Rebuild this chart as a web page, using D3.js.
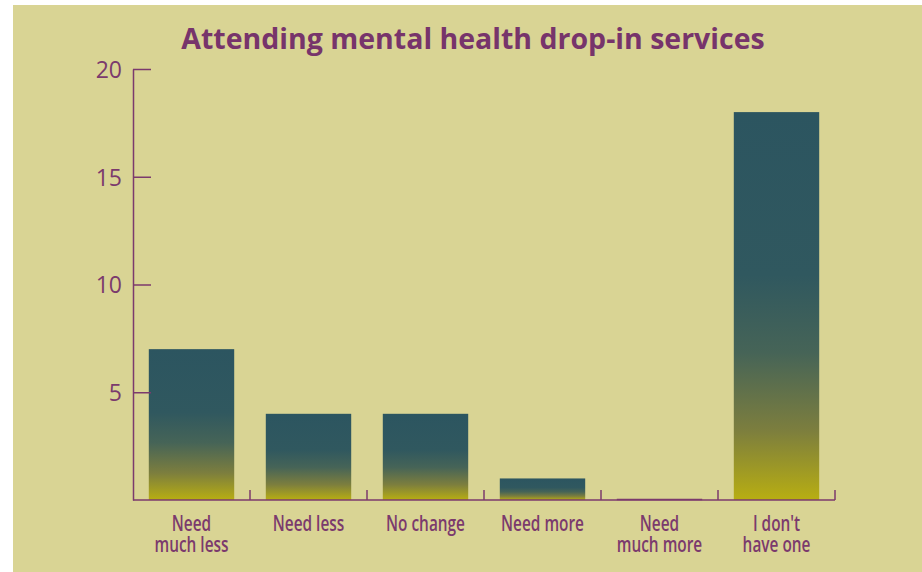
<!DOCTYPE html>
<html>
<head>
<meta charset="utf-8">
<script src="https://cdn.jsdelivr.net/npm/d3@7"></script>
<style>
  html, body { margin: 0; padding: 0; background: #ffffff; }
  svg { display: block; }
</style>
</head>
<body>
<svg id="chart" width="922" height="572"></svg>
<script>
// Survey answers: how attendance at drop-in services should change
const categories = ["Need much less", "Need less", "No change", "Need more", "Need much more", "I don't have one"];
const categoryLines = [["Need", "much less"], ["Need less"], ["No change"], ["Need more"], ["Need", "much more"], ["I don't", "have one"]];
const counts = [7, 4, 4, 1, 0, 18];
const yTicks = [5, 10, 15, 20];
const title = "Attending mental health drop-in services";

const W = 922, H = 572;
const purple = "#7b3a6d";
const svg = d3.select("#chart");

// panel background
svg.append("rect")
  .attr("x", 13).attr("y", 5)
  .attr("width", W - 13).attr("height", H - 5)
  .attr("fill", "#d9d494");

// vertical teal-to-olive fill used by every bar
const defs = svg.append("defs");
const grad = defs.append("linearGradient")
  .attr("id", "barFill")
  .attr("x1", 0).attr("y1", 0).attr("x2", 0).attr("y2", 1);
[[0, "#2c5560"], [0.42, "#30585f"], [0.62, "#466457"], [0.82, "#7c7e3e"], [1, "#b8ae12"]]
  .forEach(([o, c]) => grad.append("stop").attr("offset", o).attr("stop-color", c));

const x = d3.scaleBand()
  .domain(categories)
  .range([133, 835])
  .paddingInner(0.27)
  .paddingOuter(0.135);

const y = d3.scaleLinear().domain([0, 20]).range([500, 69]);

// bars
svg.append("g").selectAll("rect")
  .data(categories)
  .join("rect")
  .attr("x", d => x(d))
  .attr("width", x.bandwidth())
  .attr("y", (d, i) => y(counts[i]))
  .attr("height", (d, i) => y(0) - y(counts[i]))
  .attr("fill", "url(#barFill)");

// zero-height bar shows as a line on the baseline
svg.append("g").selectAll("line")
  .data(categories.filter((d, i) => counts[i] === 0))
  .join("line")
  .attr("x1", d => x(d)).attr("x2", d => x(d) + x.bandwidth())
  .attr("y1", y(0) - 0.5).attr("y2", y(0) - 0.5)
  .attr("stroke", purple).attr("stroke-width", 1.5);

// y axis with inward ticks
const yAxis = svg.append("g")
  .attr("transform", `translate(${x.range()[0]},0)`)
  .call(d3.axisLeft(y).tickValues(yTicks).tickSize(-18).tickSizeOuter(0).tickPadding(11));
yAxis.select(".domain").attr("stroke", purple).attr("stroke-width", 1.5);
yAxis.selectAll(".tick line").attr("stroke", purple).attr("stroke-width", 1.5);
yAxis.selectAll(".tick text")
  .attr("fill", purple)
  .attr("font-family", "'Open Sans', sans-serif")
  .attr("font-size", 23)
  .attr("dy", "0.36em");

// x axis baseline and band separators
const xAxis = svg.append("g").attr("transform", `translate(0,${y(0)})`);
xAxis.append("line")
  .attr("x1", x.range()[0]).attr("x2", x.range()[1])
  .attr("stroke", purple).attr("stroke-width", 1.5);
const bounds = categories.map((d, i) => x.range()[0] + (i + 1) * x.step());
xAxis.selectAll(".sep")
  .data(bounds)
  .join("line")
  .attr("class", "sep")
  .attr("x1", d => d).attr("x2", d => d)
  .attr("y1", 0).attr("y2", -10)
  .attr("stroke", purple).attr("stroke-width", 1.5);

// category labels (condensed)
const labels = svg.append("g").selectAll("g")
  .data(categories)
  .join("g")
  .attr("transform", d => `translate(${x(d) + x.bandwidth() / 2},${y(0) + 31}) scale(0.7,1)`);
labels.append("text")
  .attr("text-anchor", "middle")
  .attr("fill", purple)
  .attr("font-family", "'Open Sans', sans-serif")
  .attr("font-weight", 600)
  .attr("font-size", 22)
  .selectAll("tspan")
  .data((d, i) => categoryLines[i])
  .join("tspan")
  .attr("x", 0)
  .attr("y", (d, j) => j * 21)
  .text(d => d);

// title
svg.append("text")
  .attr("x", 473).attr("y", 49)
  .attr("text-anchor", "middle")
  .attr("fill", "#77346b")
  .attr("font-family", "'Open Sans', sans-serif")
  .attr("font-weight", 700)
  .attr("font-size", 28.5)
  .text(title);
</script>
</body>
</html>
